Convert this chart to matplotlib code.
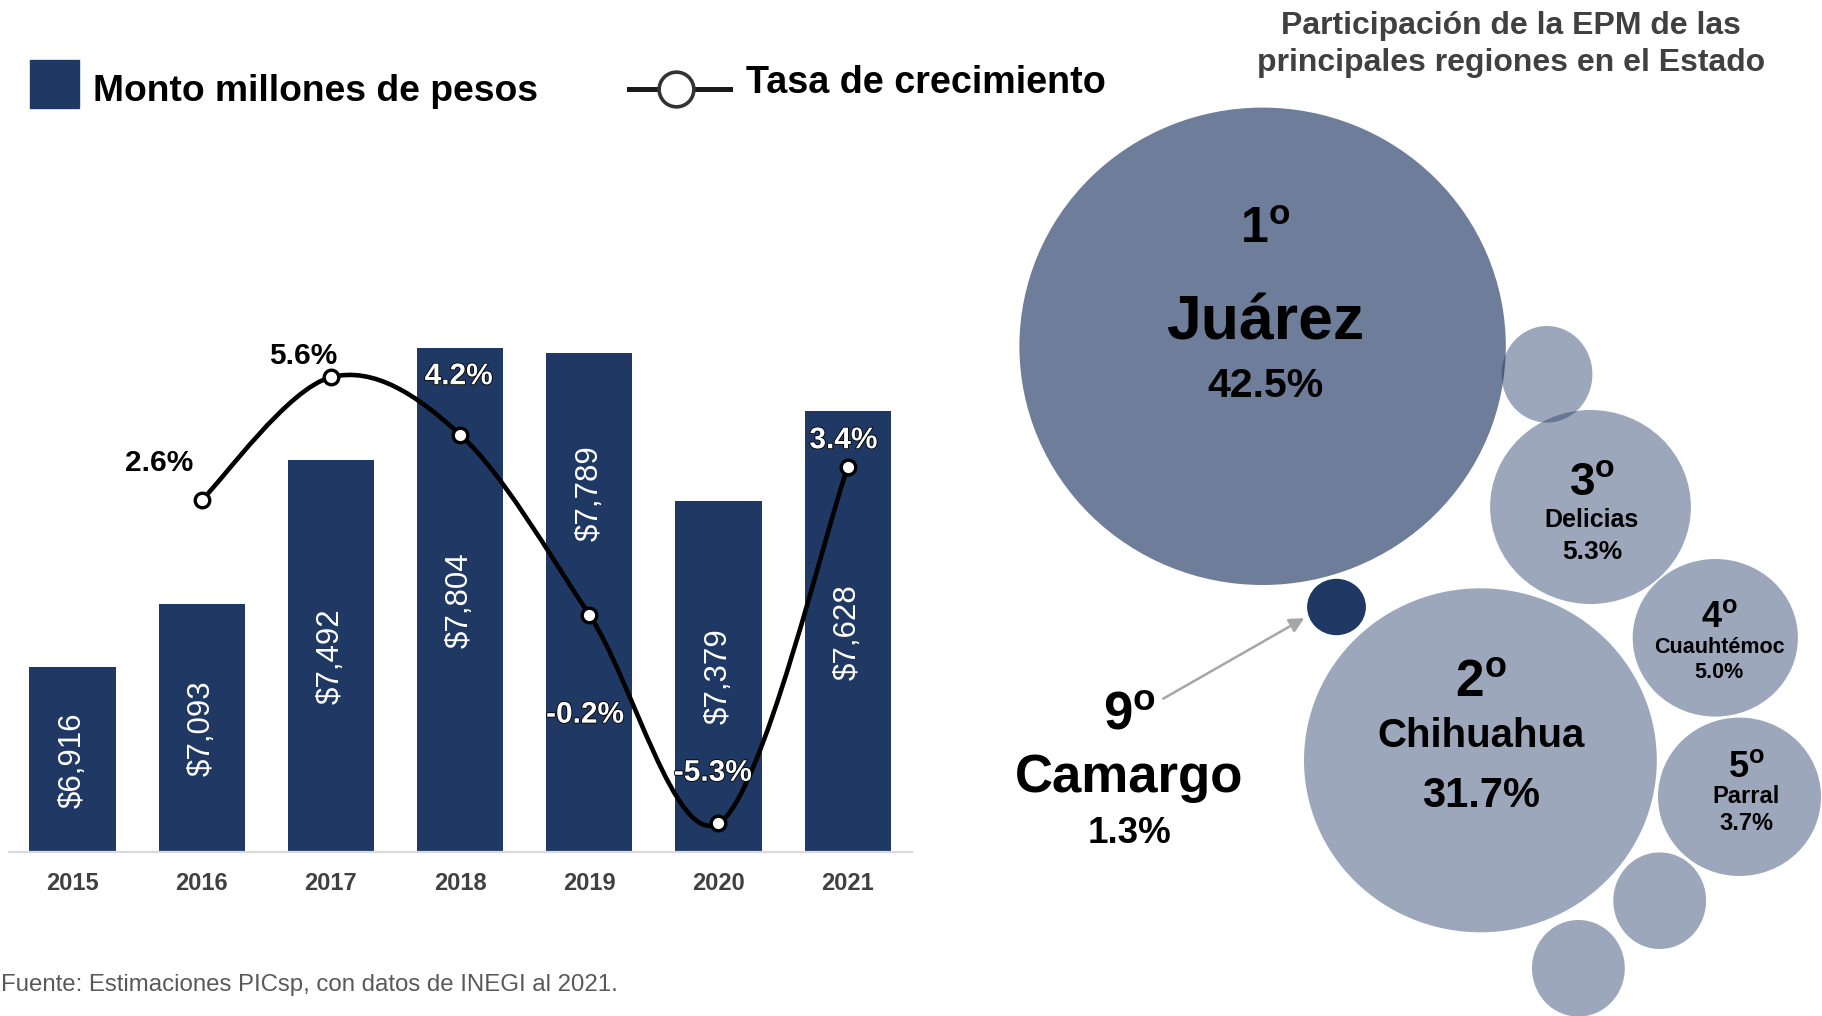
import numpy as np
import matplotlib
matplotlib.use("Agg")
import matplotlib.pyplot as plt
from matplotlib.patches import Ellipse, Rectangle, PathPatch
from matplotlib.path import Path
import matplotlib.patheffects as pe

plt.rcParams['font.family'] = ['Liberation Sans', 'DejaVu Sans']
plt.rcParams['mathtext.fontset'] = 'custom'
plt.rcParams['mathtext.bf'] = 'Liberation Sans:bold'
plt.rcParams['mathtext.rm'] = 'Liberation Sans'

# --- data -------------------------------------------------------------
years = ['2015', '2016', '2017', '2018', '2019', '2020', '2021']
monto = [6916, 7093, 7492, 7804, 7789, 7379, 7628]
tasa_years = ['2016', '2017', '2018', '2019', '2020', '2021']
tasa = [2.6, 5.6, 4.2, -0.2, -5.3, 3.4]

regiones = ['Juárez', 'Chihuahua', 'Delicias', 'Cuauhtémoc', 'Parral', 'Camargo']
lugar = [1, 2, 3, 4, 5, 9]
participacion = [42.5, 31.7, 5.3, 5.0, 3.7, 1.3]

NAVY = '#203864'
W, H = 1822, 1016

fig = plt.figure(figsize=(W / 100, H / 100), dpi=100)

# --- bar + line chart -------------------------------------------------
ax = fig.add_axes([8.8 / W, 1 - 852.3 / H, 903.5 / W, 712.3 / H])
x = np.arange(len(years))
bars = ax.bar(x, monto, width=0.668, color=NAVY, zorder=2)
ax.set_xlim(-0.493, 6.5)
ax.set_ylim(6402, 8382)
ax.set_xticks(x)
ax.set_xticklabels(years, fontsize=17, fontweight='bold', color='#404040')
ax.tick_params(axis='x', length=0, pad=14)
ax.set_yticks([])
for s in ['left', 'right', 'top']:
    ax.spines[s].set_visible(False)
ax.spines['bottom'].set_color('#D9D9D9')
ax.spines['bottom'].set_linewidth(1.6)
ax.patch.set_alpha(0)

# value labels inside the bars (2019 is lifted above the line)
for i, v in enumerate(monto):
    ypos = (ax.get_ylim()[0] + v) / 2
    if years[i] == '2019':
        ypos = 7400
    ax.text(i, ypos, '${:,}'.format(v), rotation=90, ha='center', va='center',
            color='white', fontsize=22.5)

ax2 = ax.twinx()
ax2.set_ylim(-6.004, 11.395)
ax2.set_axis_off()

pts = np.column_stack([[years.index(y) for y in tasa_years], tasa]).astype(float)
n = len(pts)
verts = [pts[0]]
codes = [Path.MOVETO]
for i in range(n - 1):
    p_prev = pts[max(i - 1, 0)]
    p_next = pts[min(i + 2, n - 1)]
    verts += [pts[i] + (pts[i + 1] - p_prev) / 6,
              pts[i + 1] - (p_next - pts[i]) / 6,
              pts[i + 1]]
    codes += [Path.CURVE4] * 3
ax2.add_patch(PathPatch(Path(verts, codes), fill=False, lw=3.3,
                        edgecolor='black', zorder=3))
ax2.plot(pts[:, 0], pts[:, 1], 'o', ms=10.5, mfc='white', mec='black',
         mew=2.4, zorder=4)

offsets = [(-31, 27), (-20, 15), (-1, 42), (-3, -72), (-4, 36.5), (-3, 19.5)]
lab_colors = ['black', 'black', 'white', 'white', 'white', 'white']
for (px, py), t, off, c in zip(pts, tasa, offsets, lab_colors):
    txt = ax2.annotate('{:.1f}%'.format(t), (px, py), xytext=off,
                       textcoords='offset points', ha='center', va='center',
                       fontsize=21.5, fontweight='bold', color=c, zorder=5)
    if c == 'white':
        txt.set_path_effects([pe.withStroke(linewidth=1.2, foreground='black')])

# --- overlay in pixel coordinates ------------------------------------
ov = fig.add_axes([0, 0, 1, 1])
ov.set_xlim(0, W)
ov.set_ylim(H, 0)
ov.set_axis_off()
ov.patch.set_alpha(0)

# legend
ov.add_patch(Rectangle((30, 60), 48.6, 48.3, color=NAVY))
ov.text(93, 100.7, 'Monto millones de pesos', fontsize=26.8, fontweight='bold',
        va='baseline', ha='left')
ov.plot([628.6, 730], [89, 89], color='#1a1a1a', lw=3.6)
ov.plot([676], [89], 'o', ms=25, mfc='white', mec='#333333', mew=2.6)
ov.text(746.4, 93.3, 'Tasa de crecimiento', fontsize=27.2, fontweight='bold',
        va='baseline', ha='left')

# right panel title
ov.text(1511, 34, 'Participación de la EPM de las', ha='center', va='baseline',
        fontsize=23, fontweight='bold', color='#404040')
ov.text(1511, 71.5, 'principales regiones en el Estado', ha='center',
        va='baseline', fontsize=23, fontweight='bold', color='#404040')

# bubbles: (cx, cy, rx, ry, alpha)
bubble_layout = [
    (1262.6, 346.3, 243.2, 238.7, 0.65),   # Juárez
    (1480.4, 760.3, 176.4, 172.0, 0.44),   # Chihuahua
    (1590.5, 507.0, 100.4, 97.0, 0.44),    # Delicias
    (1715.3, 637.8, 82.6, 78.8, 0.44),     # Cuauhtémoc
    (1739.5, 796.8, 81.5, 79.2, 0.44),     # Parral
    (1336.5, 607.0, 29.4, 28.2, 1.0),      # Camargo
]
extra_bubbles = [
    (1547.0, 374.3, 45.4, 48.3),
    (1659.7, 900.7, 46.4, 48.3),
    (1578.4, 968.3, 46.4, 48.3),
]
for cx, cy, rx, ry, a in bubble_layout:
    ov.add_patch(Ellipse((cx, cy), 2 * rx, 2 * ry, facecolor=NAVY,
                         alpha=a, lw=0))
for cx, cy, rx, ry in extra_bubbles:
    ov.add_patch(Ellipse((cx, cy), 2 * rx, 2 * ry, facecolor=NAVY,
                         alpha=0.44, lw=0))

# text: (x, rank baseline, name baseline, pct baseline, rank size, name size, pct size)
text_layout = [
    (1265, 243.0, 340.0, 396.7, 36, 45, 29.5),
    (1481, 696.7, 746.7, 806.7, 37, 29, 30),
    (1592, 495.0, 526.7, 559.0, 33, 18, 19),
    (1719, 626.7, 653.0, 678.0, 26, 15.5, 15.5),
    (1746, 776.7, 803.0, 830.0, 26, 17, 17),
    (1129, 730.0, 792.0, 843.0, 38, 38, 26.5),
]
for reg, rk, pc, (tx, yr, yn, yp, sr, sn, sp) in zip(regiones, lugar, participacion, text_layout):
    ov.text(tx, yr, r'$\mathbf{%d^{o}}$' % rk, fontsize=sr, ha='center',
            va='baseline')
    ov.text(tx, yn, reg, fontsize=sn, fontweight='bold', ha='center',
            va='baseline')
    ov.text(tx, yp, '{:.1f}%'.format(pc), fontsize=sp, fontweight='bold',
            ha='center', va='baseline')

ov.annotate('', xy=(1306.7, 616.7), xytext=(1160.9, 700),
            arrowprops=dict(arrowstyle='-|>', color='#A6A6A6', lw=1.8,
                            mutation_scale=22))

# footer
ov.text(1, 991, 'Fuente: Estimaciones PICsp, con datos de INEGI al 2021.',
        fontsize=17.3, color='#595959', ha='left', va='baseline')

fig.savefig('out.png', dpi=100)
